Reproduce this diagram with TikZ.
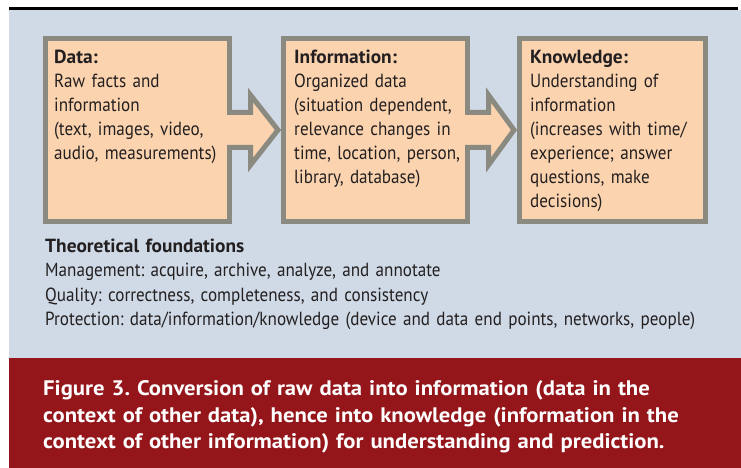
\documentclass[tikz,border=0pt]{standalone}
\usepackage{fontspec}
\setmainfont[FakeStretch=0.9, BoldFeatures={FakeStretch=1.02}]{PT Sans}
\newfontfamily\capfont[FakeStretch=1.0, BoldFeatures={FakeStretch=1.08}]{PT Sans}
\usetikzlibrary{positioning,calc}
\definecolor{panelbg}{HTML}{CFDAE6}
\definecolor{boxfill}{HTML}{FBD4AF}
\definecolor{boxline}{HTML}{8B8A80}
\definecolor{capbg}{HTML}{94161B}
\definecolor{inktext}{HTML}{231F20}
\frenchspacing

\tikzset{
  stage/.style={draw=boxline, fill=boxfill, line width=5pt, minimum width=184pt, minimum height=183pt, inner sep=0pt},
  stagetext/.style={anchor=base west, align=left, text width=178pt, inner sep=0pt, text=inktext, font=\fontsize{19}{24}\selectfont},
  arrowline/.style={draw=boxline, line width=5pt, line join=miter},
}

\begin{document}
\begin{tikzpicture}[x=1pt, y=1pt]
  \useasboundingbox (0,0) rectangle (741,468);
  % panel, caption bar and the rule on top
  \fill[panelbg] (9,110) rectangle (741,458);
  \fill[capbg] (9,0) rectangle (741,110);
  \draw[line width=2.5pt] (9,459.7) -- (738,459.7);

  % the three stages
  \node[stage] (data) at (137.5,338) {};
  \node[stage, right=49pt of data] (info) {};
  \node[stage, right=47pt of info, minimum width=186pt] (know) {};

  % block arrows: shaft opens into the left box, tip touches the next one
  \foreach \a/\b in {data/info, info/know} {
    \fill[boxfill] ($(\a.east)+(-6,17.5)$) -- ++(24.5,0) -- ++(0,17.5)
      -- ($(\b.west)+(-3,0)$) -- ($(\a.east)+(18.5,-35)$) -- ++(0,17.5) -- ++(-24.5,0) -- cycle;
    \draw[arrowline] ($(\a.east)+(-5,17.5)$) -- ++(23.5,0) -- ++(0,17.5)
      -- ($(\b.west)+(-3,0)$) -- ($(\a.east)+(18.5,-35)$) -- ++(0,17.5) -- ++(-23.5,0);
  }

  \node[stagetext] (datatxt) at ($(data.north west)+(11,-28)$)
    {\textbf{Data:}\\Raw facts and\\information\\(text, images, video,\\audio, measurements)};
  \node[stagetext] (infotxt) at ($(info.north west)+(13,-28)$)
    {\textbf{Information:}\\Organized data\\(situation dependent,\\relevance changes in\\time, location, person,\\library, database)};
  \node[stagetext] (knowtxt) at ($(know.north west)+(13,-28)$)
    {\textbf{Knowledge:}\\Understanding of\\information\\(increases with time/\\experience; answer\\questions, make\\decisions)};

  % foundations under the boxes
  \node[stagetext, text width=680pt, font=\fontsize{19}{24.5}\selectfont] (found) at (45,215.5)
    {\textbf{Theoretical foundations}\\
     Management: acquire, archive, analyze, and annotate\\
     Quality: correctness, completeness, and consistency\\
     Protection: data/information/knowledge (device and data end points, networks, people)};

  % caption
  \node[stagetext, text width=690pt, text=white, font=\capfont\fontsize{21}{26.5}\selectfont\bfseries] (caption) at (43,72)
    {Figure 3. Conversion of raw data into information (data in the\\
     context of other data), hence into knowledge (information in the\\
     context of other information) for understanding and prediction.};
\end{tikzpicture}
\end{document}
